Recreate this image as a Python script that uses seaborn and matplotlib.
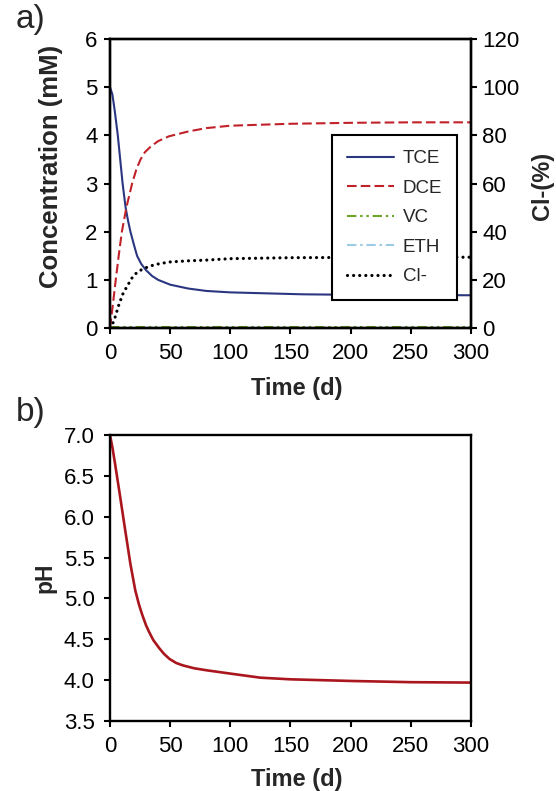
import matplotlib
matplotlib.use("Agg")
import matplotlib.pyplot as plt
import seaborn as sns

# Panel a: chlorinated ethenes (mM) and chloride release (%)
t_tce = [0, 2, 4, 6.5, 8.5, 10.5, 13, 15, 17, 20, 22.5, 26, 30, 35, 40, 50, 65, 80, 100, 130, 160, 200, 250, 300]
tce = [5.0, 4.85, 4.5, 4.0, 3.5, 3.0, 2.5, 2.23, 2.0, 1.72, 1.5, 1.33, 1.2, 1.08, 1.0, 0.9, 0.82, 0.77, 0.74, 0.72, 0.70, 0.69, 0.685, 0.68]

t_dce = [0, 2, 4.8, 7.5, 9.9, 13.6, 18.4, 22, 25.4, 29, 34, 40, 49, 65, 80, 100, 150, 200, 250, 300]
dce = [0.0, 0.4, 1.0, 1.55, 2.0, 2.5, 3.0, 3.3, 3.5, 3.65, 3.77, 3.88, 3.98, 4.08, 4.15, 4.2, 4.24, 4.26, 4.27, 4.27]

t_low = [0, 50, 100, 150, 200, 250, 300]
vc = [0.02, 0.02, 0.02, 0.02, 0.02, 0.02, 0.02]
eth = [0.0, 0.0, 0.0, 0.0, 0.0, 0.0, 0.0]

t_cl = [0, 2, 4.2, 7.6, 11, 15.5, 18, 21, 24, 27, 32, 38, 49, 65, 80, 100, 150, 200, 250, 300]
cl = [0.0, 1.5, 4.4, 10.0, 14.5, 18.4, 20.6, 22.4, 23.6, 24.4, 25.5, 26.4, 27.4, 27.9, 28.2, 28.8, 29.2, 29.3, 29.4, 29.4]

# Panel b: pH
t_ph = [0, 2, 4.2, 8.5, 12.7, 17, 21, 24, 26.8, 30, 32.5, 36, 41, 45, 49.4, 55, 60.7, 70, 80.5, 100, 125, 150, 200, 250, 300]
ph = [7.0, 6.85, 6.65, 6.24, 5.83, 5.42, 5.1, 4.93, 4.8, 4.67, 4.59, 4.49, 4.39, 4.32, 4.26, 4.21, 4.18, 4.145, 4.12, 4.08, 4.03, 4.01, 3.99, 3.975, 3.97]

x_ticks = [0, 50, 100, 150, 200, 250, 300]
ph_ticks = [3.5, 4.0, 4.5, 5.0, 5.5, 6.0, 6.5, 7.0]

sns.set_theme(style="ticks")
plt.rcParams["font.family"] = ["Liberation Sans", "DejaVu Sans"]

fig = plt.figure(figsize=(5.56, 7.91), dpi=100)
ax1 = fig.add_axes([0.1978, 0.5853, 0.6493, 0.3654])
ax2 = fig.add_axes([0.1978, 0.0885, 0.6493, 0.3616])
ax1r = ax1.twinx()

lw = 1.5
sns.lineplot(x=t_tce, y=tce, ax=ax1, color="#2b3681", lw=lw, label="TCE")
sns.lineplot(x=t_dce, y=dce, ax=ax1, color="#c1222a", lw=lw, label="DCE")
ax1.lines[-1].set_dashes((4.6, 2.0))
sns.lineplot(x=t_low, y=vc, ax=ax1, color="#6fa52c", lw=lw, label="VC")
ax1.lines[-1].set_dashes((4.5, 1.8, 1.2, 1.8, 1.2, 1.8))
sns.lineplot(x=t_low, y=eth, ax=ax1, color="#9ccbe3", lw=lw, label="ETH")
ax1.lines[-1].set_dashes((4.5, 1.8, 1.2, 1.8))
sns.lineplot(x=t_cl, y=cl, ax=ax1r, color="black", lw=2.3, label="Cl-")
ax1r.lines[-1].set_dashes((0.01, 1.9))
ax1r.lines[-1].set_dash_capstyle("round")

ax1.set_xlim(0, 300)
ax1.set_ylim(0, 6)
ax1r.set_ylim(0, 120)
ax1.set_xticks(x_ticks)
ax1.set_yticks(range(0, 7))
ax1r.set_yticks(range(0, 121, 20))

sns.lineplot(x=t_ph, y=ph, ax=ax2, color="#a9161d", lw=1.9)
ax2.set_xlim(0, 300)
ax2.set_ylim(3.5, 7.0)
ax2.set_xticks(x_ticks)
ax2.set_yticks(ph_ticks)
ax2.set_yticklabels([f"{v:.1f}" for v in ph_ticks])

for ax in (ax1, ax1r, ax2):
    for sp in ax.spines.values():
        sp.set_visible(True)
        sp.set_linewidth(1.7)
        sp.set_color("black")
    ax.tick_params(direction="out", length=4.5, width=1.5, labelsize=16,
                   colors="black")
    ax.tick_params(axis="x", pad=6.5)
ax1.tick_params(axis="y", pad=4.5)
ax1r.tick_params(axis="y", pad=3.5)
ax2.tick_params(axis="y", pad=6.5)

ax1.set_xlabel("Time (d)", fontsize=17, fontweight="bold")
ax1.xaxis.set_label_coords(0.518, -0.17)
ax1.set_ylabel("Concentration (mM)", fontsize=18.5, fontweight="bold")
ax1.yaxis.set_label_coords(-0.163, 0.56)
ax1.yaxis.label.set_verticalalignment("center")
ax1r.set_ylabel("Cl-(%)", fontsize=17, fontweight="bold")
ax1r.yaxis.set_label_coords(1.197, 0.49)
ax1r.yaxis.label.set_verticalalignment("center")
ax2.set_xlabel("Time (d)", fontsize=17, fontweight="bold")
ax2.xaxis.set_label_coords(0.518, -0.164)
ax2.set_ylabel("pH", fontsize=16.5, fontweight="bold")
ax2.yaxis.set_label_coords(-0.18, 0.5)
ax2.yaxis.label.set_verticalalignment("center")

# one legend for the series on both y axes
for a in (ax1, ax1r):
    if a.get_legend() is not None:
        a.get_legend().remove()
h1, l1 = ax1.get_legend_handles_labels()
h2, l2 = ax1r.get_legend_handles_labels()
leg = ax1r.legend(h1 + h2, l1 + l2, loc="upper left", bbox_to_anchor=(0.615, 0.668),
                  borderaxespad=0, fontsize=13.5, frameon=True, fancybox=False,
                  framealpha=1, edgecolor="black", handlelength=2.5,
                  handletextpad=0.48, labelspacing=0.66, borderpad=0.8)
leg.get_frame().set_linewidth(1.5)

fig.text(0.029, 0.975, "a)", fontsize=24, va="center", ha="left")
fig.text(0.029, 0.479, "b)", fontsize=24, va="center", ha="left")

fig.savefig("out.png", dpi=100)
